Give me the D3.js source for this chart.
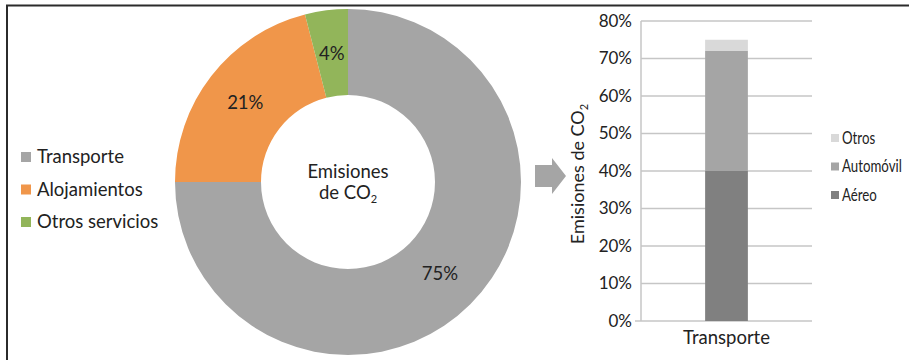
<!DOCTYPE html>
<html>
<meta charset="utf-8">
<style>
  body {
    margin: 0;
    background: #fff;
  }
  text {
    font-family: Lato, "Open Sans", sans-serif;
    fill: #222;
  }
  .grid line {
    stroke: #c6c6c6;
    stroke-width: 1.5;
  }
</style>
<body>
<script src="https://cdn.jsdelivr.net/npm/d3@7"></script>
<script>

// donut data
var donutCats = ['Transporte', 'Alojamientos', 'Otros servicios'];
var donutVals = [75, 21, 4];
var donutColors = ['#a5a5a5', '#f0964a', '#92b55a'];

// stacked bar data
var barCats = ['Transporte'];
var stackKeys = ['Aéreo', 'Automóvil', 'Otros'];
var stackVals = [40, 32, 3];
var stackColors = ['#808080', '#a5a5a5', '#d9d9d9'];
var yTicks = [0, 10, 20, 30, 40, 50, 60, 70, 80];

var width = 909;
var height = 360;

var svg = d3.select('body')
  .append('svg')
  .attr('width', width)
  .attr('height', height);

// frame (only top and left edges are visible in the picture)
svg.append('path')
  .attr('d', 'M7,360 L7,5.5 L909,5.5')
  .attr('fill', 'none')
  .attr('stroke', '#2b2b2b')
  .attr('stroke-width', 2);

////////////////////////
// Donut
////////////////////////

var cx = 348, cy = 182;
var outerR = 173, innerR = 87;

var pie = d3.pie().sort(null).value(function(d) { return d; });
var arc = d3.arc().innerRadius(innerR).outerRadius(outerR);

var donut = svg.append('g')
  .attr('transform', 'translate(' + cx + ',' + cy + ')');

var arcs = pie(donutVals);

donut.selectAll('path')
  .data(arcs)
  .enter()
  .append('path')
  .attr('d', arc)
  .style('fill', function(d, i) { return donutColors[i]; });

donut.selectAll('text.pct')
  .data(arcs)
  .enter()
  .append('text')
  .attr('class', 'pct')
  .attr('transform', function(d) { return 'translate(' + arc.centroid(d) + ')'; })
  .attr('text-anchor', 'middle')
  .attr('dy', '0.35em')
  .style('font-size', '18.5px')
  .text(function(d) { return d.data + '%'; });

donut.append('text')
  .attr('text-anchor', 'middle')
  .attr('y', -10)
  .attr('dy', '0.35em')
  .style('font-size', '18.5px')
  .text('Emisiones');

var co2 = donut.append('text')
  .attr('text-anchor', 'middle')
  .attr('y', 11)
  .attr('dy', '0.35em')
  .style('font-size', '18.5px');
co2.append('tspan').text('de CO');
co2.append('tspan').attr('dy', 4).style('font-size', '11px').text('2');

// left legend
var legendL = svg.append('g')
  .selectAll('g')
  .data(donutCats)
  .enter()
  .append('g')
  .attr('transform', function(d, i) { return 'translate(21,' + (157 + i * 32.5) + ')'; });

legendL.append('rect')
  .attr('x', 0)
  .attr('y', -5)
  .attr('width', 10)
  .attr('height', 10)
  .style('fill', function(d, i) { return donutColors[i]; });

legendL.append('text')
  .attr('x', 16)
  .attr('dy', '0.35em')
  .style('font-size', '18.5px')
  .text(function(d) { return d; });

// arrow
svg.append('path')
  .attr('d', 'M535,165 L552,165 L552,158 L566,176 L552,194 L552,187 L535,187 Z')
  .style('fill', '#a5a5a5');

////////////////////////
// Stacked bar
////////////////////////

var x = d3.scaleBand()
  .domain(barCats)
  .range([641, 812])
  .padding(0.6);

var y = d3.scaleLinear()
  .domain([0, 80])
  .range([321, 21]);

// gridlines
svg.append('g')
  .attr('class', 'grid')
  .selectAll('line')
  .data(yTicks)
  .enter()
  .append('line')
  .attr('x1', function(d) { return d === 0 ? 635 : 641; })
  .attr('x2', 812)
  .attr('y1', function(d) { return y(d); })
  .attr('y2', function(d) { return y(d); });

svg.append('line')
  .attr('x1', 641).attr('x2', 641)
  .attr('y1', y(80)).attr('y2', y(0))
  .style('stroke', '#c6c6c6')
  .style('stroke-width', 1.5);

// tick labels
svg.append('g')
  .selectAll('text')
  .data(yTicks)
  .enter()
  .append('text')
  .attr('x', 632)
  .attr('y', function(d) { return y(d); })
  .attr('dy', '0.35em')
  .attr('text-anchor', 'end')
  .style('font-size', '17px')
  .text(function(d) { return d + '%'; });

// stacked segments
var row = {};
stackKeys.forEach(function(k, i) { row[k] = stackVals[i]; });
var series = d3.stack().keys(stackKeys)([row]);

svg.append('g')
  .selectAll('rect')
  .data(series)
  .enter()
  .append('rect')
  .attr('x', x(barCats[0]))
  .attr('width', x.bandwidth())
  .attr('y', function(d) { return y(d[0][1]); })
  .attr('height', function(d) { return y(d[0][0]) - y(d[0][1]); })
  .style('fill', function(d, i) { return stackColors[i]; });

// x label
svg.append('text')
  .attr('x', x(barCats[0]) + x.bandwidth() / 2)
  .attr('y', 338)
  .attr('dy', '0.35em')
  .attr('text-anchor', 'middle')
  .style('font-size', '18.5px')
  .text(barCats[0]);

// y axis title
var ytitle = svg.append('text')
  .attr('transform', 'translate(584,174) rotate(-90)')
  .attr('text-anchor', 'middle')
  .style('font-size', '18px');
ytitle.append('tspan').text('Emisiones de CO');
ytitle.append('tspan').attr('dy', 4).style('font-size', '11px').text('2');

// right legend (top to bottom: Otros, Automóvil, Aéreo), condensed text
var legendR = svg.append('g')
  .selectAll('g')
  .data(stackKeys.slice().reverse())
  .enter()
  .append('g')
  .attr('transform', function(d, i) { return 'translate(831,' + (138 + i * 28.5) + ')'; });

legendR.append('rect')
  .attr('y', -4)
  .attr('width', 8)
  .attr('height', 8)
  .style('fill', function(d) { return stackColors[stackKeys.indexOf(d)]; });

legendR.append('text')
  .attr('transform', 'translate(11,0) scale(0.78,1)')
  .attr('dy', '0.35em')
  .style('font-size', '17px')
  .text(function(d) { return d; });

</script>
</body>
</html>
